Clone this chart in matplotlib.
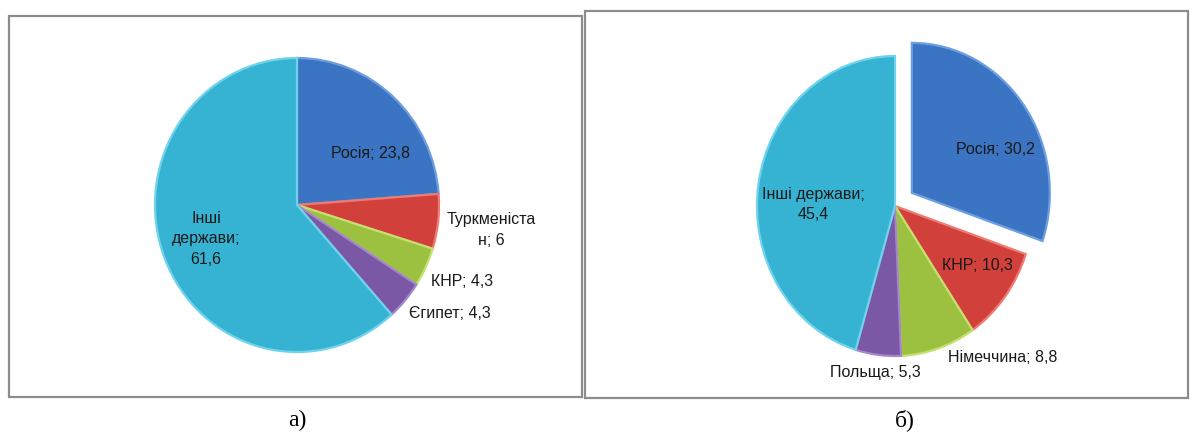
import matplotlib.pyplot as plt
from matplotlib.patches import Rectangle

plt.rcParams['font.family'] = ['Liberation Sans Narrow', 'Liberation Sans', 'DejaVu Sans']

# chart a)
labels_a = ["Росія; 23,8", "Туркменіста\nн; 6", "КНР; 4,3", "Єгипет; 4,3", "Інші\nдержави;\n61,6"]
values_a = [23.8, 6, 4.3, 4.3, 61.6]

# chart б)
labels_b = ["Росія; 30,2", "КНР; 10,3", "Німеччина; 8,8", "Польща; 5,3", "Інші держави;\n45,4"]
values_b = [30.2, 10.3, 8.8, 5.3, 45.4]

blue, red, green, purple, cyan = "#3B74C2", "#D2403B", "#9CC03F", "#7B58A6", "#36B2D3"
edge = {blue: "#6E9EE0", red: "#EE7A72", green: "#C4E06E", purple: "#A486CC", cyan: "#6FD3EC"}
colors_a = [blue, red, green, purple, cyan]
colors_b = [blue, red, green, purple, cyan]

W, H = 1195, 437
fig = plt.figure(figsize=(W / 100, H / 100), dpi=100)
bg = fig.add_axes([0, 0, 1, 1])
bg.set_xlim(0, W)
bg.set_ylim(H, 0)
bg.axis('off')

# panel frames
bg.add_patch(Rectangle((9, 16), 573, 381, fill=False, ec="#8C8C8C", lw=1.6))
bg.add_patch(Rectangle((585, 11), 603, 387, fill=False, ec="#8C8C8C", lw=1.6))
bg.text(297, 420, "а)", ha='center', va='center', fontsize=17, family='Liberation Serif')
bg.text(905, 420, "б)", ha='center', va='center', fontsize=17, family='Liberation Serif')


def pie_axes(cx, cy, rx, ry, m=1.3):
    ax = fig.add_axes([(cx - m * rx) / W, (H - cy - m * ry) / H, 2 * m * rx / W, 2 * m * ry / H])
    ax.axis('off')
    return ax, m


def draw(ax, m, values, colors, explode, label_pos, labels):
    wedges, _ = ax.pie(values, colors=colors, startangle=90, counterclock=False,
                       explode=explode, radius=1,
                       wedgeprops=dict(linewidth=1.6))
    for w, c in zip(wedges, colors):
        w.set_edgecolor(edge[c])
    ax.set_aspect('auto')
    ax.set_xlim(-m, m)
    ax.set_ylim(-m, m)
    for (x, y), t in zip(label_pos, labels):
        ax.text(x, y, t, ha='center', va='center', fontsize=11.5, color="#1a1a1a",
                linespacing=1.45)


ax_a, m_a = pie_axes(297, 205, 142, 147)
draw(ax_a, m_a, values_a, colors_a, [0, 0, 0, 0, 0],
     [(0.52, 0.35), (1.37, -0.17), (1.16, -0.52), (1.08, -0.74), (-0.64, -0.23)], labels_a)

ax_b, m_b = pie_axes(895, 206, 138, 150)
draw(ax_b, m_b, values_b, colors_b, [0.15, 0, 0, 0, 0],
     [(0.73, 0.38), (0.60, -0.40), (0.78, -1.01), (-0.14, -1.11), (-0.59, 0.01)], labels_b)

fig.savefig("out.png", dpi=100)
